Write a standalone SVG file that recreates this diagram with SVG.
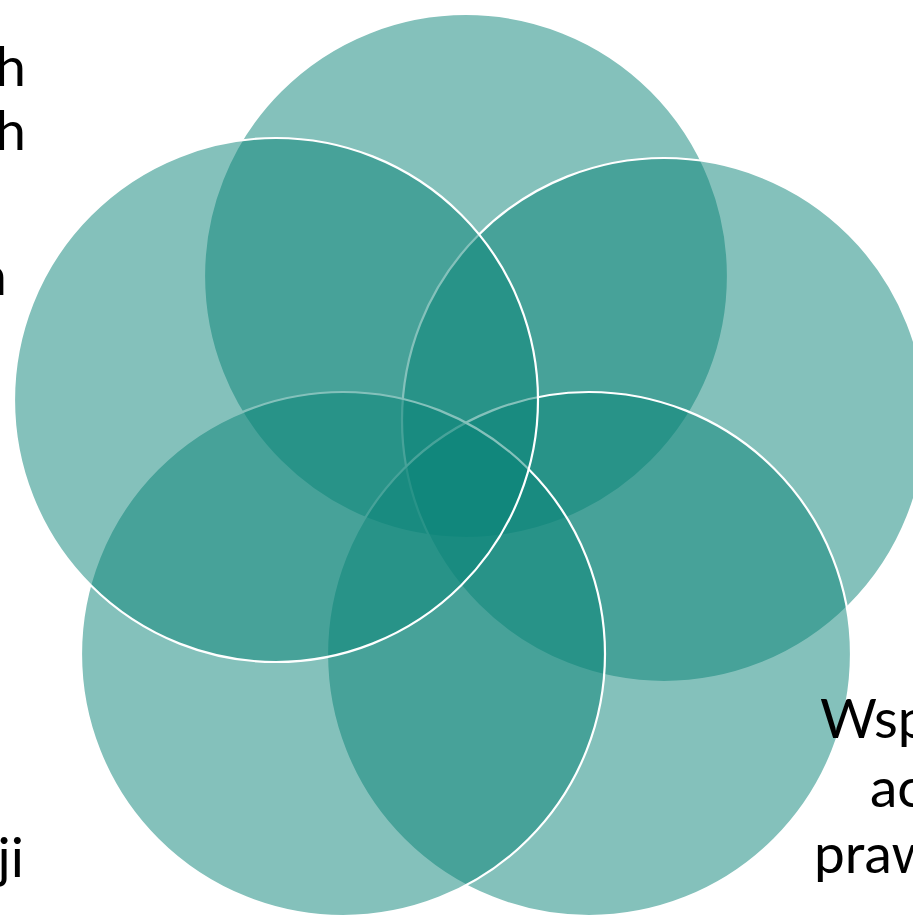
<svg xmlns="http://www.w3.org/2000/svg" width="913" height="915" viewBox="0 0 913 915">
  <style>
    .c { fill: rgb(9,131,119); fill-opacity: 0.5; stroke: #ffffff; stroke-width: 2.2; }
    .t { font-family: Lato, "Open Sans", "Liberation Sans", sans-serif; font-size: 55px; fill: #000000; }
  </style>
  <rect width="913" height="915" fill="#ffffff"/>
  <g id="node-top"><circle class="c" cx="466" cy="276" r="262"/></g>
  <g id="node-right"><circle class="c" cx="664" cy="420" r="262"/></g>
  <g id="node-bottom-right"><circle class="c" cx="589" cy="654" r="262"/></g>
  <g id="node-bottom-left"><circle class="c" cx="343" cy="654" r="262"/></g>
  <g id="node-left"><circle class="c" cx="276" cy="400" r="262"/></g>
  <g id="label-top-left" class="t" text-anchor="end">
    <text x="26" y="86">h</text>
    <text x="26" y="150">h</text>
    <text x="7" y="295">n</text>
  </g>
  <g id="label-bottom-left" class="t" text-anchor="end">
    <text x="24" y="877">ji</text>
  </g>
  <g id="label-bottom-right" class="t">
    <text x="820" y="738">Wsp</text>
    <text x="870" y="807">ac</text>
    <text x="814" y="873">praw</text>
  </g>
  <g id="connectors"/>
</svg>
